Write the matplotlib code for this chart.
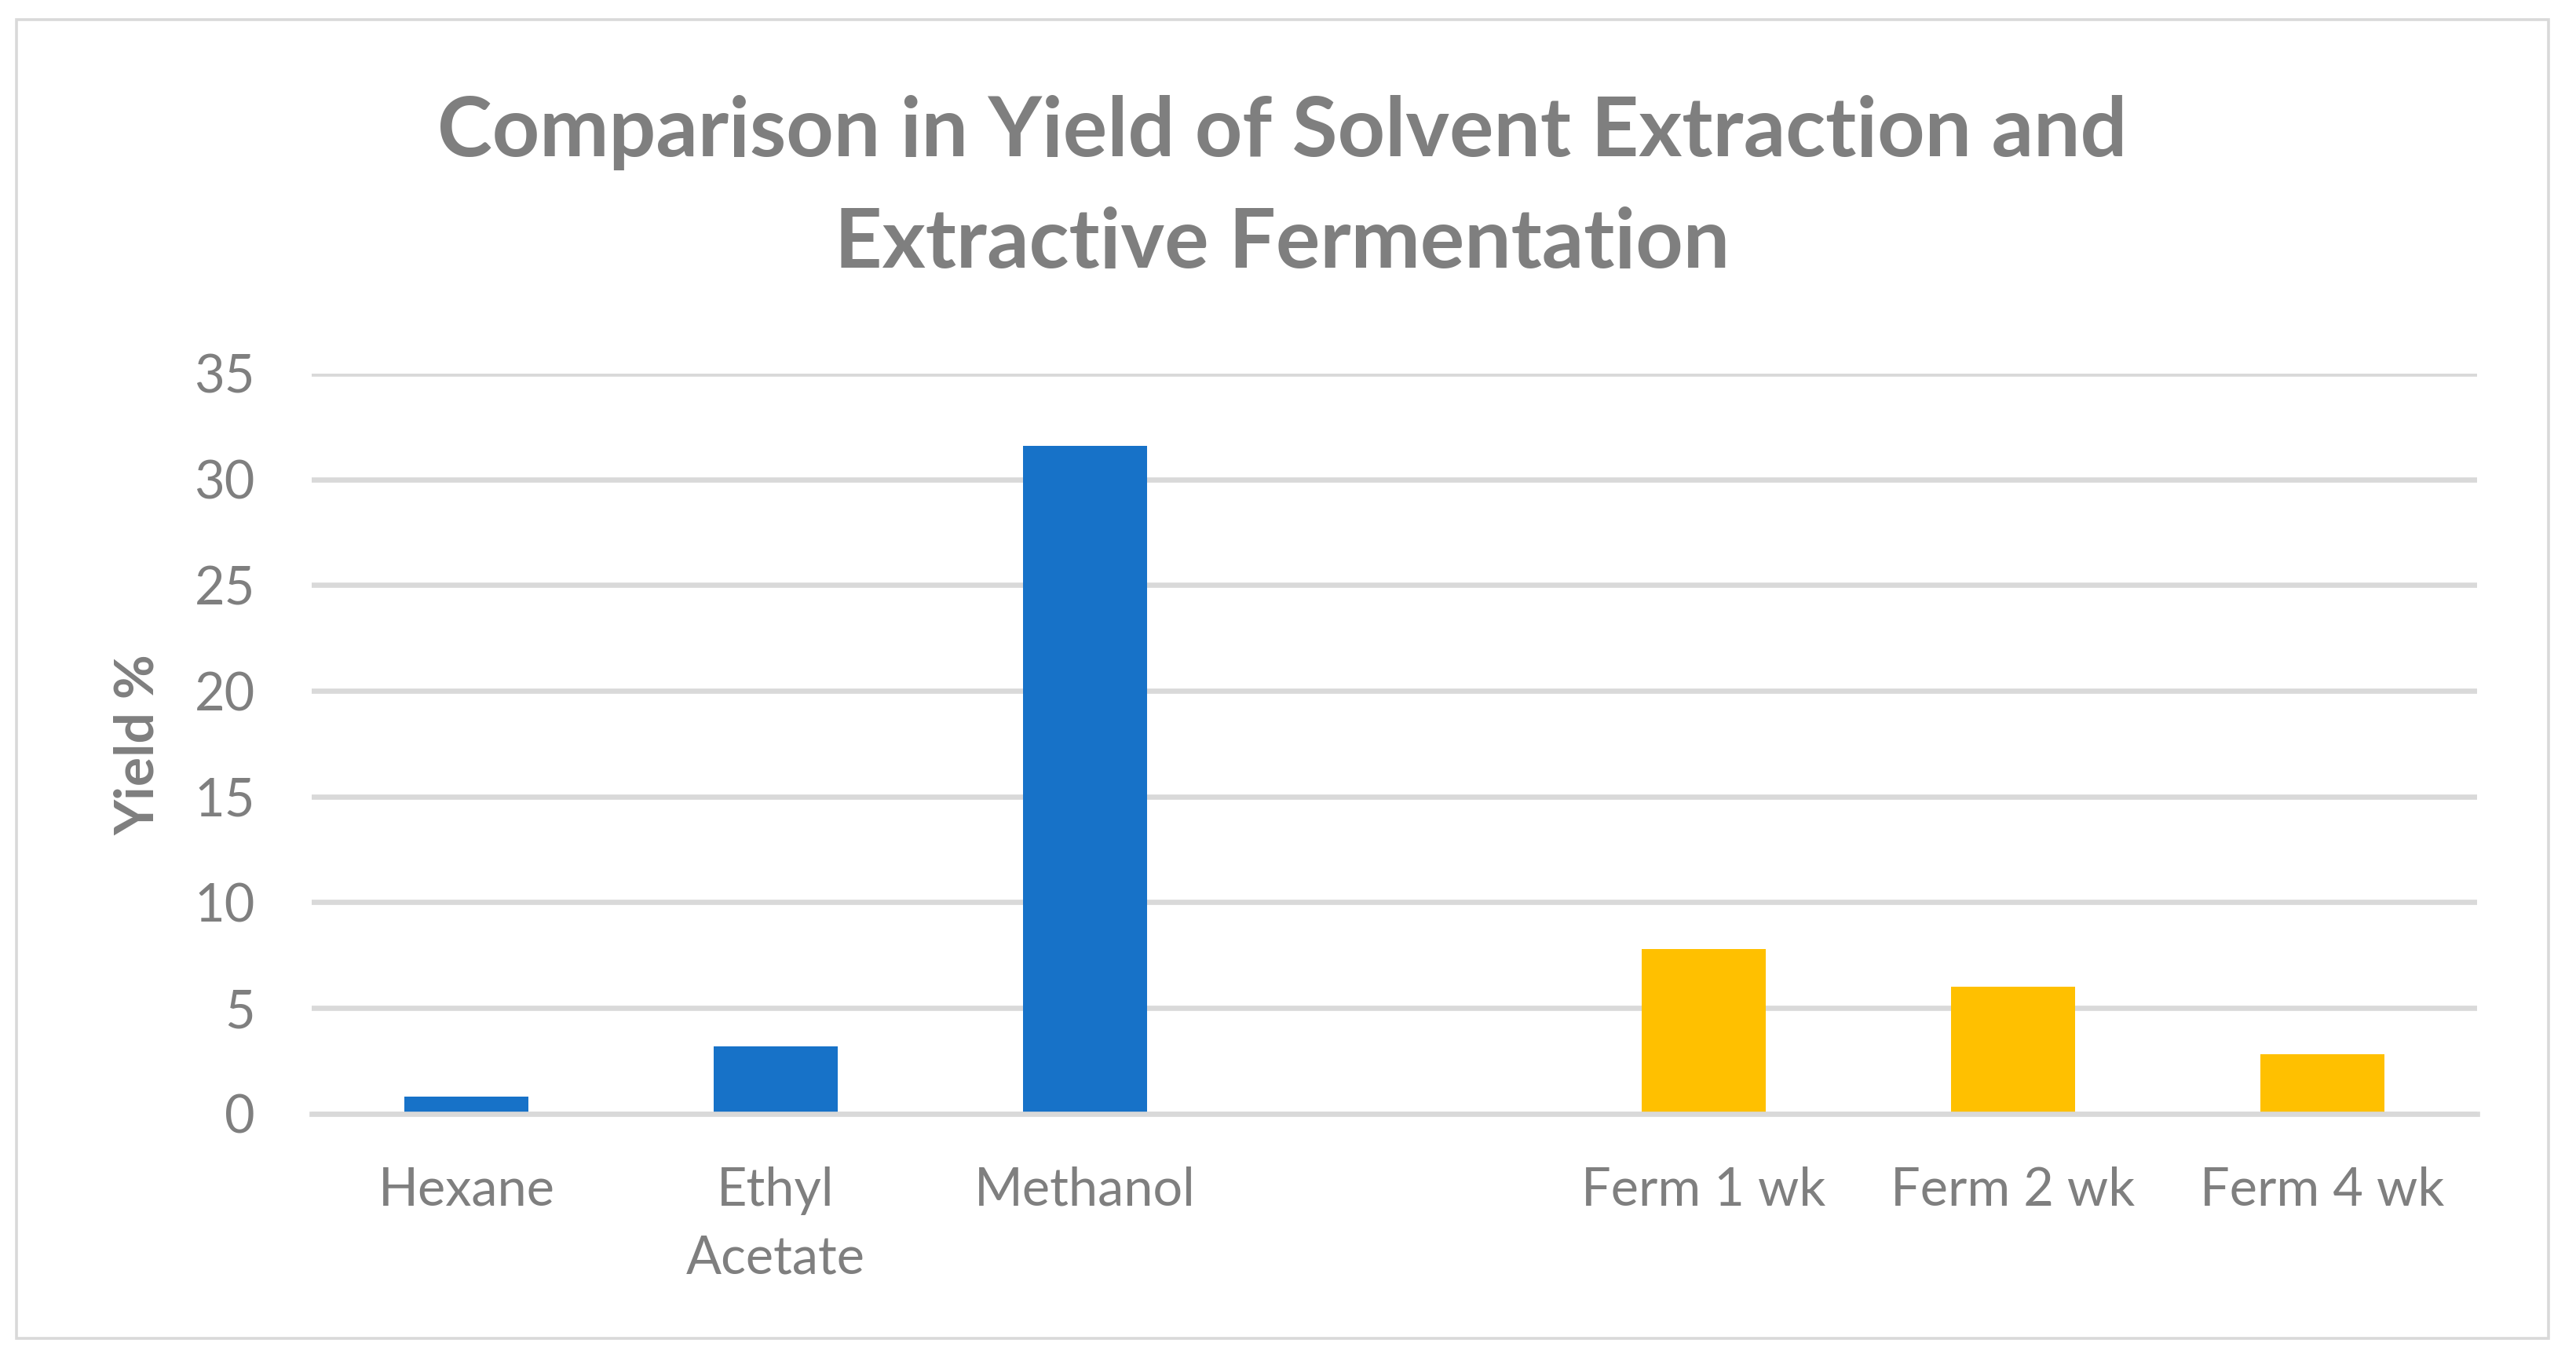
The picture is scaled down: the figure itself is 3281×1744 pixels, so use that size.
import numpy as np
import matplotlib
matplotlib.use("Agg")
from matplotlib import pyplot as plt
from matplotlib.patches import Rectangle

# Data
solvent_labels = ["Hexane", "Ethyl\nAcetate", "Methanol"]
solvent_yield = [0.8, 3.2, 31.6]
ferm_labels = ["Ferm 1 wk", "Ferm 2 wk", "Ferm 4 wk"]
ferm_yield = [7.8, 6.0, 2.8]

title_lines = ["Comparison in Yield of Solvent Extraction and", "Extractive Fermentation"]
y_ticks = [0, 5, 10, 15, 20, 25, 30, 35]

text_gray = "#7F7F7F"
grid_gray = "#D9D9D9"
blue = "#1772C8"
yellow = "#FFC000"

plt.rcParams["font.family"] = ["Lato", "DejaVu Sans"]

fig = plt.figure(figsize=(16.405, 8.72), dpi=200)

# Outer chart border
fig.patches.append(Rectangle((0.0064, 0.0224), 0.9829, 0.9633, transform=fig.transFigure,
                             fill=False, edgecolor=grid_gray, linewidth=1.3))

ax = fig.add_axes([0.1210, 0.1864, 0.8406, 0.5407])

# solvents on 0..2, a blank slot, fermentations on 4..6
solvent_x = np.arange(len(solvent_labels))
ferm_x = np.arange(len(ferm_labels)) + len(solvent_labels) + 1

ax.bar(solvent_x, solvent_yield, width=0.40, color=blue)
ax.bar(ferm_x, ferm_yield, width=0.40, color=yellow)

ax.set_xlim(-0.5, 6.5)
ax.set_ylim(0, 35)
ax.set_yticks(y_ticks)
ax.set_xticks(list(solvent_x) + list(ferm_x))
ax.set_xticklabels(solvent_labels + ferm_labels, linespacing=1.5)

ax.set_axisbelow(True)
ax.yaxis.grid(True, color=grid_gray, linewidth=2.4)
for side in ["top", "right", "left"]:
    ax.spines[side].set_visible(False)
ax.spines["bottom"].set_color(grid_gray)
ax.spines["bottom"].set_linewidth(2.4)

ax.tick_params(axis="both", length=0, labelsize=24, labelcolor=text_gray)
ax.tick_params(axis="y", pad=26)
ax.tick_params(axis="x", pad=24)

fig.text(0.0539, 0.4559, "Yield %", rotation=90, ha="center", va="center",
         fontsize=25, fontweight="bold", color=text_gray)

fig.text(0.4977, 0.8859, title_lines[0], ha="center", va="baseline",
         fontsize=38, fontweight="bold", color=text_gray)
fig.text(0.4977, 0.8045, title_lines[1], ha="center", va="baseline",
         fontsize=38, fontweight="bold", color=text_gray)

plt.savefig("out.png", dpi=200)
